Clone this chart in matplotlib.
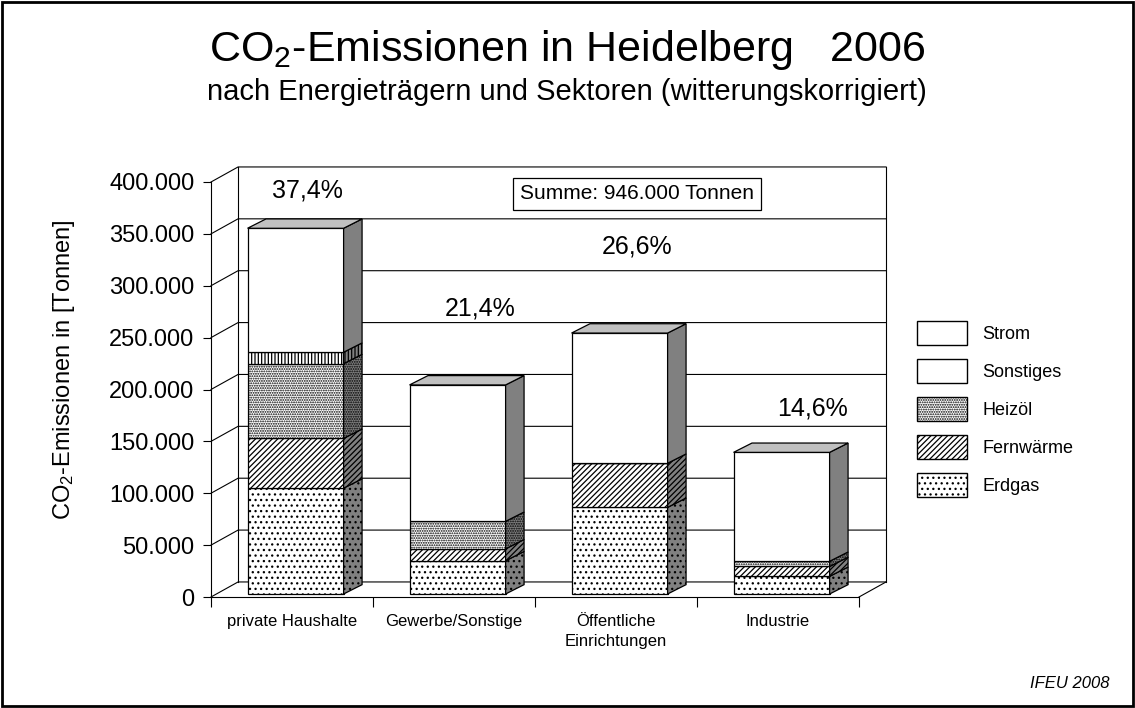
import numpy as np
import matplotlib.pyplot as plt
from matplotlib.patches import Polygon, Patch, Rectangle

plt.rcParams['font.family'] = ['Liberation Sans', 'DejaVu Sans']
plt.rcParams['mathtext.fontset'] = 'custom'
plt.rcParams['mathtext.rm'] = 'Liberation Sans'
plt.rcParams['mathtext.it'] = 'Liberation Sans:italic'
plt.rcParams['hatch.linewidth'] = 0.9

# data (tonnes CO2)
sectors = ['private Haushalte', 'Gewerbe/Sonstige', 'Öffentliche\nEinrichtungen', 'Industrie']
erdgas = [102000, 32000, 83500, 17000]
fernwaerme = [48000, 11500, 42500, 9500]
heizoel = [72000, 26500, 0, 5000]
sonstiges = [11000, 0, 0, 0]
strom = [119500, 131500, 125500, 105000]
shares = ['37,4%', '21,4%', '26,6%', '14,6%']
total_label = 'Summe: 946.000 Tonnen'
yticks = [0, 50000, 100000, 150000, 200000, 250000, 300000, 350000, 400000]

series = [('Erdgas', erdgas, '...'),
          ('Fernwärme', fernwaerme, '//////'),
          ('Heizöl', heizoel, '.......'),
          ('Sonstiges', sonstiges, '|||||'),
          ('Strom', strom, '')]

fig = plt.figure(figsize=(11.35, 7.08), dpi=100)
ax = fig.add_axes([211/1135, 111/708, 648/1135, 415/708])
ax.set_xlim(-0.5, 3.5)
ax.set_ylim(0, 400000)
ax.patch.set_visible(False)

# fake 3d depth
wall_dx, wall_dy = 0.167, 14500
bar_ox, bar_oy = 0.022, 2900
bar_dx, bar_dy = 0.114, 9000
width = 0.593

x0, x1 = -0.5, 3.5
ymax = yticks[-1]
for v in yticks:
    ax.plot([x0, x0 + wall_dx, x1 + wall_dx], [v, v + wall_dy, v + wall_dy],
            color='black', lw=0.8, clip_on=False, zorder=1)
ax.plot([x0 + wall_dx] * 2, [wall_dy, ymax + wall_dy], color='black', lw=0.8, clip_on=False, zorder=1)
ax.plot([x1 + wall_dx] * 2, [wall_dy, ymax + wall_dy], color='black', lw=0.8, clip_on=False, zorder=1)
ax.plot([x1, x1 + wall_dx], [0, wall_dy], color='black', lw=0.8, clip_on=False, zorder=1)

x = np.arange(len(sectors)) + bar_ox
bottom = np.zeros(len(sectors)) + bar_oy
for name, vals, hatch in series:
    vals = np.array(vals)
    ax.bar(x, vals, width, bottom=bottom, facecolor='white', edgecolor='black',
           hatch=hatch, lw=0.9, zorder=3)
    for xi, b, v in zip(x, bottom, vals):
        if v == 0:
            continue
        xr = xi + width / 2
        side = [(xr, b), (xr + bar_dx, b + bar_dy), (xr + bar_dx, b + v + bar_dy), (xr, b + v)]
        ax.add_patch(Polygon(side, facecolor='#808080', edgecolor='black', hatch=hatch,
                             lw=0.9, zorder=3))
    bottom = bottom + vals

for xi, t in zip(x, bottom):
    xl, xr = xi - width / 2, xi + width / 2
    top = [(xl, t), (xr, t), (xr + bar_dx, t + bar_dy), (xl + bar_dx, t + bar_dy)]
    ax.add_patch(Polygon(top, facecolor='#c0c0c0', edgecolor='black', lw=0.9, zorder=3))

# axes / ticks
for s in ['top', 'right']:
    ax.spines[s].set_visible(False)
ax.spines['left'].set_linewidth(0.8)
ax.spines['bottom'].set_linewidth(0.8)
ax.set_yticks(yticks)
ax.set_yticklabels([f'{v:,}'.replace(',', '.') for v in yticks], fontsize=17)
ax.tick_params(axis='y', length=6, width=0.8, pad=6)
ax.set_xticks(range(len(sectors)))
ax.set_xticklabels(sectors, fontsize=12)
for lbl in ax.get_xticklabels():
    lbl.set_linespacing(1.45)
ax.set_xticks(np.arange(-0.5, len(sectors), 1), minor=True)
ax.tick_params(axis='x', which='major', length=0, pad=12)
ax.tick_params(axis='x', which='minor', length=7, width=0.8)
ax.set_ylabel('CO$_2$-Emissionen in [Tonnen]', fontsize=17)
ax.yaxis.set_label_coords(-0.207, 0.547)

# share labels
share_pos = [(0.093, 392000), (1.16, 278500), (2.13, 338000), (3.21, 182000)]
for (px, py), s in zip(share_pos, shares):
    ax.text(px, py, s, ha='center', va='center', fontsize=18, zorder=5)

ax.text(2.13, 388500, total_label, ha='center', va='center', fontsize=15, zorder=5,
        bbox=dict(boxstyle='square,pad=0.32', fc='white', ec='black', lw=0.9))

fig.text(0.4996, 0.929, 'CO$_2$-Emissionen in Heidelberg   2006', ha='center', va='center', fontsize=31)
fig.text(0.4996, 0.870, 'nach Energieträgern und Sektoren (witterungskorrigiert)',
         ha='center', va='center', fontsize=21)

handles = [Patch(facecolor='white', edgecolor='black', label='Strom'),
           Patch(facecolor='white', edgecolor='black', label='Sonstiges'),
           Patch(facecolor='white', edgecolor='black', hatch='.......', label='Heizöl'),
           Patch(facecolor='white', edgecolor='black', hatch='//////', label='Fernwärme'),
           Patch(facecolor='white', edgecolor='black', hatch='...', label='Erdgas')]
fig.legend(handles=handles, loc='upper left', bbox_to_anchor=(917/1135, 1 - 321/708),
           frameon=False, fontsize=13, handlelength=2.77, handleheight=1.70,
           labelspacing=0.75, handletextpad=0.85, borderpad=0, borderaxespad=0)

fig.text(1110/1135, 1 - 684/708, 'IFEU 2008', ha='right', va='center', fontsize=12, style='italic')
fig.add_artist(Rectangle((0.002, 0.003), 0.996, 0.994, transform=fig.transFigure,
                         fill=False, ec='black', lw=2))

fig.savefig('out.png', dpi=100)
